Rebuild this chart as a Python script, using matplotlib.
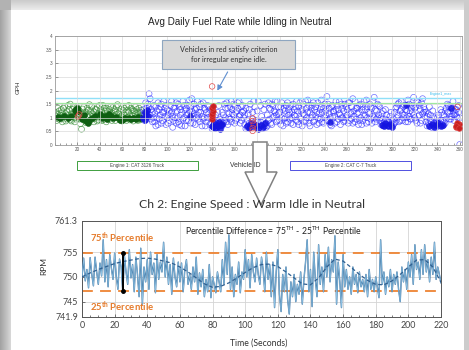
import numpy as np
import matplotlib
matplotlib.use('Agg')
import matplotlib.pyplot as plt
from matplotlib.transforms import Affine2D
from matplotlib.patches import Rectangle, Polygon, FancyArrowPatch

# ---------------- data: top chart (GPH per vehicle) ----------------
green_a = [1.05, 0.98, 1.12, 1.25, 1.02, 0.95, 1.18, 1.35, 1.08, 0.88,
           1.22, 1.45, 1.0, 0.92, 1.15, 1.3, 1.05, 0.85, 1.2, 1.38,
           1.1, 1.25, 0.78, 1.02, 1.32, 0.95, 1.15, 0.82, 1.05, 1.28,
           1.12, 0.9, 1.4, 1.05, 1.22, 0.98, 1.3, 0.88, 1.15, 1.45,
           1.02, 1.2, 0.92, 1.35, 1.08, 0.85, 1.25, 1.12, 0.95, 1.4,
           1.18, 1.0, 1.3, 0.9, 1.12, 1.48, 0.98, 1.22, 1.05, 0.88,
           1.28, 1.1, 0.95, 1.42, 1.02, 1.2, 0.92, 1.35, 1.08, 1.25,
           0.98, 1.15, 1.3, 0.9, 1.05, 1.2, 0.95, 1.1]
green_b = [1.2, 0.9, 1.35, 0.95, 1.1, 1.3, 0.85, 1.05, 1.42, 1.15,
           0.95, 1.08, 1.3, 1.5, 0.88, 1.12, 1.4, 1.0, 0.95, 1.1,
           1.3, 0.95, 1.05, 0.58, 1.15, 1.4, 0.9, 1.2, 1.35, 1.0,
           1.48, 1.25, 0.95, 1.15, 0.85, 1.3, 1.05, 1.38, 0.92, 1.1,
           1.3, 0.9, 1.45, 1.0, 1.25, 1.35, 0.95, 1.05, 1.3, 1.15,
           0.9, 1.38, 1.05, 1.25, 1.4, 1.0, 1.15, 0.92, 1.32, 1.1,
           1.0, 1.35, 1.2, 0.9, 1.28, 1.45, 1.05, 0.95, 1.3, 0.88,
           1.25, 1.4, 1.02, 1.18, 1.35, 0.92, 1.28, 1.05]
green_dark_x = [3, 5, 8, 12, 15, 18, 19, 20, 21, 24, 26, 28, 30, 31, 33, 36, 40, 42,
                45, 47, 48, 50, 52, 55, 58, 60, 61, 63, 66, 68, 70, 72, 74, 76, 77]
green_dark_y = [1.02, 0.98, 1.05, 1.0, 1.08, 1.3, 1.22, 1.35, 1.25, 0.95, 1.1, 0.88,
                0.82, 0.9, 1.0, 1.05, 1.15, 1.0, 1.08, 0.95, 1.12, 1.05, 0.98, 1.02,
                0.92, 0.9, 0.95, 1.0, 0.98, 0.95, 1.0, 0.95, 1.02, 0.98, 1.0]

blue_a = [1.05, 1.2, 0.95, 1.35, 1.5, 1.88, 1.1, 1.3, 0.85, 1.45,
          1.15, 0.7, 1.25, 1.55, 0.95, 1.4, 0.8, 1.2, 1.6, 1.05,
          0.75, 1.3, 1.1, 0.9, 1.45, 1.2, 0.65, 1.35, 1.0, 1.55,
          1.25, 0.85, 1.4, 1.1, 0.7, 1.6, 1.0, 1.3, 0.9, 1.45,
          1.15, 1.65, 0.8, 1.25, 1.05, 1.5, 0.75, 1.35, 1.1, 0.95,
          1.4, 1.2, 0.7, 1.55, 1.0, 1.3, 0.85, 1.45, 1.15, 0.75,
          0.8, 1.3, 0.7, 0.85, 1.1, 0.65, 0.9, 1.45, 0.75, 0.7,
          1.2, 0.8, 1.5, 1.0, 0.85, 1.35, 1.15, 0.95, 1.6, 1.3,
          1.1, 1.45, 0.9, 1.25, 1.55, 1.05, 0.8, 1.4, 1.2, 1.0,
          0.75, 1.35, 0.65, 1.15, 0.8, 1.5, 0.7, 0.95, 1.6, 0.75,
          0.65, 1.25, 0.85, 0.7, 1.45, 0.6, 0.9, 1.3, 0.7, 0.8,
          1.1, 1.55, 0.95, 1.3, 0.75, 1.45, 1.05, 1.2, 0.85, 1.6,
          1.15, 0.9, 1.4, 1.0, 0.7, 1.35, 1.25, 0.8, 1.55, 1.1,
          0.95, 1.45, 1.2, 0.75, 1.3, 1.05, 1.6, 0.85, 1.4, 1.0,
          1.25, 0.7, 1.5, 1.1, 0.9, 1.35, 1.65, 0.8, 1.2, 1.0,
          1.45, 0.85, 1.3, 1.05, 0.75, 1.55, 1.15, 0.95, 1.4, 1.2,
          0.8, 1.5, 1.1, 1.78, 0.9, 1.35, 1.0, 0.7, 1.45, 1.25,
          1.05, 1.6, 0.85, 1.3, 1.15, 0.75, 1.5, 1.0, 1.25, 0.9,
          1.4, 1.1, 0.8, 1.55, 1.2, 0.95, 1.7, 1.05, 0.85, 1.35,
          1.15, 0.75, 1.45, 1.0, 1.3, 0.9, 1.6, 1.1, 0.8, 1.4,
          1.2, 1.5, 0.95, 1.35, 1.05, 1.75, 0.85, 1.25, 1.0, 1.45,
          0.9, 0.75, 1.15, 0.7, 0.85, 1.3, 0.75, 0.9, 0.7, 1.05,
          0.8, 0.7, 0.95, 1.2, 0.85, 1.4, 1.1, 1.55, 0.9, 1.3,
          1.15, 1.0, 1.45, 0.85, 1.25, 1.65, 1.05, 0.95, 1.35, 1.2,
          1.75, 1.0, 1.4, 0.8, 1.55, 1.1, 1.3, 0.9, 1.7, 1.2,
          1.05, 0.85, 0.7, 1.15, 0.75, 0.9, 0.65, 1.25, 0.8, 0.7,
          0.85, 1.0, 0.7, 0.8, 1.3, 0.75, 0.9, 1.1, 0.8, 1.35,
          1.5, 1.2, 0.95, 1.4, 1.05, 1.25, 0.9, 1.15, 1.3, 1.0,
          1.45, 0.02]
blue_b = [1.3, 0.9, 1.55, 1.15, 1.25, 1.4, 1.7, 0.95, 1.2, 1.0,
          0.85, 1.4, 1.0, 0.75, 1.3, 1.1, 1.5, 0.9, 1.2, 1.35,
          1.45, 1.0, 0.8, 1.25, 1.15, 1.6, 1.05, 0.9, 1.4, 0.8,
          1.0, 1.5, 0.75, 1.3, 1.2, 0.95, 1.45, 0.7, 1.35, 1.1,
          0.9, 1.25, 1.4, 1.7, 0.8, 1.15, 1.3, 1.0, 1.6, 1.2,
          0.85, 1.5, 1.05, 0.95, 1.35, 0.7, 1.2, 1.0, 1.4, 1.3,
          1.05, 0.6, 0.95, 0.72, 0.62, 0.8, 1.2, 0.68, 0.95, 0.85,
          0.7, 1.1, 0.9, 1.35, 1.55, 0.75, 1.0, 1.4, 0.85, 1.15,
          1.5, 0.8, 1.2, 0.95, 1.35, 1.6, 1.1, 0.9, 1.45, 1.25,
          1.1, 0.6, 0.9, 0.7, 1.3, 0.65, 0.85, 1.2, 0.7, 1.4,
          0.9, 0.7, 1.6, 0.65, 0.85, 1.05, 0.6, 0.75, 1.5, 0.65,
          0.7, 0.9, 1.35, 0.8, 1.5, 1.0, 1.25, 1.6, 1.1, 0.9,
          1.4, 1.2, 0.75, 1.55, 1.3, 0.95, 1.0, 1.45, 0.85, 1.3,
          1.2, 0.8, 1.0, 1.5, 1.1, 1.4, 0.9, 1.25, 0.75, 1.55,
          0.95, 1.3, 1.15, 0.85, 1.6, 1.0, 1.2, 1.45, 0.7, 1.35,
          1.1, 1.55, 0.9, 1.4, 1.2, 1.0, 0.8, 1.3, 1.65, 0.85,
          1.35, 1.0, 1.25, 0.9, 1.5, 1.15, 0.75, 1.4, 1.05, 1.2,
          0.8, 1.3, 1.45, 0.95, 1.6, 1.1, 1.0, 1.35, 0.85, 1.5,
          1.0, 1.3, 1.55, 0.9, 1.15, 1.4, 0.8, 1.25, 1.6, 0.95,
          1.35, 1.2, 0.9, 1.5, 0.75, 1.4, 1.05, 1.3, 1.65, 1.0,
          0.85, 1.15, 1.4, 0.8, 1.6, 1.0, 1.3, 0.95, 1.5, 1.1,
          1.4, 1.0, 0.8, 1.25, 0.7, 0.95, 1.1, 0.72, 0.85, 0.7,
          1.2, 0.9, 0.75, 0.8, 1.35, 1.0, 1.5, 0.85, 1.25, 1.6,
          0.9, 1.4, 1.1, 1.3, 1.0, 0.85, 1.5, 1.25, 0.95, 1.45,
          1.1, 1.35, 0.9, 1.6, 1.05, 1.45, 0.8, 1.55, 1.15, 1.4,
          1.3, 1.2, 1.05, 0.8, 1.4, 1.1, 0.85, 0.7, 1.0, 0.75,
          0.65, 0.8, 1.1, 0.7, 0.9, 1.2, 0.7, 0.85, 1.25, 0.95,
          1.2, 1.45, 1.05, 0.95, 1.35, 1.6, 1.1, 1.3, 1.05, 1.4,
          1.2, 1.0]
blue_dark_x = [79, 80, 80, 81, 82, 83, 140, 141, 142, 143, 144, 145, 146, 147, 148, 149,
               171, 173, 175, 177, 179, 181, 183, 185, 187, 291, 293, 294, 296, 298, 300,
               333, 335, 337, 339, 341, 343, 345, 120, 245, 312, 352]
blue_dark_y = [1.0, 1.2, 0.9, 1.1, 1.3, 1.05, 0.7, 0.65, 0.8, 0.62, 0.75, 0.68, 0.85, 0.6,
               0.72, 0.78, 0.7, 0.62, 0.8, 0.68, 0.75, 0.6, 0.72, 0.66, 0.82, 0.75, 0.68,
               0.82, 0.7, 0.78, 0.65, 0.7, 0.78, 0.65, 0.72, 0.8, 0.68, 0.74, 1.05, 0.85,
               1.48, 1.35]
red_fill_x = [140, 140, 140, 141, 140, 141, 357, 358, 359, 358, 357, 359]
red_fill_y = [0.95, 1.05, 1.15, 1.25, 1.35, 1.42, 0.65, 0.72, 0.78, 0.82, 0.7, 0.62]
red_open_x = [140, 176, 176, 177, 176, 176, 21, 22, 358]
red_open_y = [2.15, 0.52, 0.62, 0.75, 0.88, 0.98, 1.05, 1.12, 1.4]
engine1_max = 1.74
engine_thresh = 1.55

top_xticks = list(range(20, 361, 20))
top_yticks = [0, 0.5, 1, 1.5, 2, 2.5, 3, 3.5, 4]
top_ylabels = ['0', '0.5', '1', '1.5', '2', '2.5', '3', '3.5', '4']

# ---------------- data: bottom chart (engine speed) ----------------
rpm = [750.0, 753.8, 749.2, 751.5, 747.8, 753.9, 750.5, 748.2, 754.0, 751.0,
       748.5, 752.8, 750.2, 757.5, 749.0, 753.5, 748.0, 754.5, 751.8, 749.5,
       754.8, 750.0, 747.5, 753.6, 752.0, 746.8, 754.2, 751.0, 748.5, 755.5,
       749.8, 752.5, 747.0, 754.0, 750.5, 746.0, 755.8, 744.5, 752.0, 749.0,
       753.5, 747.5, 755.0, 750.5, 752.8, 746.8, 754.5, 749.5, 753.0, 751.0,
       757.0, 750.0, 754.0, 748.5, 752.5, 746.5, 753.8, 750.0, 748.0, 753.0,
       749.0, 752.8, 747.0, 751.5, 753.5, 748.5, 750.5, 747.5, 752.0, 749.0,
       754.0, 746.5, 750.8, 748.0, 751.5, 746.0, 749.5, 747.0, 752.5, 745.8,
       750.0, 748.5, 746.8, 751.0, 749.0, 747.0, 753.5, 748.5, 757.0, 750.5,
       758.5, 747.5, 752.0, 746.0, 750.5, 748.5, 753.0, 746.8, 751.0, 749.5,
       755.5, 750.0, 753.5, 747.8, 754.5, 751.0, 749.0, 753.8, 750.5, 748.5,
       754.0, 751.5, 747.0, 755.0, 749.5, 752.5, 746.0, 753.0, 743.8, 751.0,
       755.5, 746.5, 743.0, 750.5, 747.0, 752.0, 745.5, 742.5, 749.0, 746.0,
       750.5, 745.0, 748.5, 746.5, 751.0, 744.5, 749.5, 753.0, 757.5, 747.0,
       751.5, 744.0, 755.0, 749.5, 746.0, 756.5, 748.5, 752.0, 747.0, 754.5,
       750.0, 756.0, 749.0, 753.5, 751.0, 758.3, 744.5, 753.0, 749.0, 743.8,
       754.5, 748.0, 751.5, 747.5, 750.0, 746.5, 752.0, 748.5, 750.5, 746.8,
       751.0, 748.0, 749.5, 747.0, 750.5, 746.0, 751.5, 747.5, 749.5, 747.0,
       750.0, 748.0, 745.8, 757.5, 748.5, 751.0, 746.5, 750.0, 748.0, 751.5,
       747.0, 750.5, 748.5, 751.0, 747.5, 745.0, 752.0, 749.0, 751.5, 747.5,
       753.0, 750.0, 754.5, 748.5, 756.5, 751.5, 753.0, 749.5, 755.5, 750.5,
       756.5, 751.0, 753.5, 749.0, 754.0, 750.5, 757.0, 749.5, 752.0, 750.5,
       748.8]
smooth_rpm = [750.0, 750.8, 751.5, 752.1, 752.7, 753.1, 753.4, 753.7, 753.8, 753.6,
              753.2, 752.8, 752.0, 751.0, 749.8, 748.6, 747.9, 748.1, 748.8, 749.8,
              750.9, 751.9, 752.5, 752.6, 752.1, 751.0, 749.8, 748.6, 748.4, 749.8,
              752.0, 753.6, 753.2, 751.9, 750.5, 749.3, 748.5, 748.4, 749.2, 750.5,
              752.0, 753.4, 753.5, 752.0, 748.9]
p75 = 754.9
p25 = 747.2
bar_t = 25
bot_yticks = [741.9, 745, 750, 755, 761.3]
bot_ylabels = ['741.9', '745', '750', '755', '761.3']
bot_xticks = list(range(0, 221, 20))

# ---------------- figure ----------------
W, H = 469, 350
fig = plt.figure(figsize=(W / 100, H / 100), dpi=100)
fig.patch.set_facecolor('white')
px = Affine2D().scale(1 / W, -1 / H).translate(0, 1) + fig.transFigure

# framed background
bg = fig.add_axes([0, 0, 1, 1], zorder=-10)
img = np.ones((H, W, 3))
lc = np.linspace(0.64, 0.84, 11)
for c in range(11):
    img[:, c, :] = lc[c]
tr = np.linspace(0.80, 0.92, 10)
for r in range(10):
    img[r, 11:, :] = tr[r]
img[:, 464:, :] = 0.80
img[:10, :11, :] = 0.70
bg.imshow(img, extent=(0, W, H, 0), aspect='auto', interpolation='bilinear')
bg.set_xlim(0, W)
bg.set_ylim(H, 0)
bg.axis('off')

ARIAL = 'Liberation Sans'
CAL = 'Lato'

# ---------- top chart ----------
ax1 = fig.add_axes([54.5 / W, 1 - 145 / H, (462 - 54.5) / W, 109 / H])
ax1.set_xlim(0, 362)
ax1.set_ylim(0, 4)
ax1.set_xticks(top_xticks)
ax1.set_xticklabels([str(v) for v in top_xticks], fontsize=3.3, family=ARIAL)
ax1.set_yticks(top_yticks)
ax1.set_yticklabels(top_ylabels, fontsize=3.3, family=ARIAL)
ax1.set_xticks(np.arange(0, 361, 5), minor=True)
ax1.tick_params(which='both', direction='in', length=1.5, width=0.4, pad=1.5,
                colors='#555555', top=False, right=False)
ax1.tick_params(which='major', length=2)
ax1.grid(True, color='#dadada', lw=0.5)
for s in ax1.spines.values():
    s.set_color('#9a9a9a')
    s.set_linewidth(0.6)

ax1.axhline(engine1_max, color='#8fe0f8', lw=1.0, zorder=1.5)
ax1.axhline(engine_thresh, color='#9ee89e', lw=0.9, zorder=1.5)

gx = np.arange(1, 1 + len(green_a))
ax1.scatter(gx, green_a, s=18, facecolors='none', edgecolors='#3a8f3a', lw=0.5, alpha=0.8)
ax1.scatter(gx, green_b, s=18, facecolors='none', edgecolors='#3a8f3a', lw=0.5, alpha=0.8)
ax1.scatter(green_dark_x, green_dark_y, s=18, color='#0e5e12', lw=0.4)
bx = np.arange(79, 79 + len(blue_a))
bx2 = np.arange(79, 79 + len(blue_b))
ax1.scatter(bx, blue_a, s=18, facecolors='none', edgecolors='#3030ff', lw=0.5, alpha=0.7)
ax1.scatter(bx2, blue_b, s=18, facecolors='none', edgecolors='#3030ff', lw=0.5, alpha=0.7)
ax1.scatter(blue_dark_x, blue_dark_y, s=18, color='#1414e0', lw=0.4, alpha=0.85)
ax1.scatter(red_fill_x, red_fill_y, s=16, color='#c82020', edgecolors='#e04040', lw=0.5, zorder=3)
ax1.scatter(red_open_x, red_open_y, s=16, facecolors='none', edgecolors='#e04848', lw=0.5, zorder=3)
ax1.text(343, 1.87, 'Engine1_max', fontsize=2.6, color='#33bbee', ha='center', va='center',
         family=ARIAL)

fig.text(240, 22, 'Avg Daily Fuel Rate while Idling in Neutral', transform=px,
         fontsize=7.1, family=ARIAL, ha='center', va='center', color='#222222')
fig.text(18, 87, 'GPH', transform=px, rotation=90, fontsize=4.5, family=ARIAL,
         ha='center', va='center', color='#333333')

# callout box
fig.patches.append(Rectangle((162, 40), 133, 29, transform=px, facecolor='#d8d8d8',
                             edgecolor='#8ea6c0', lw=0.8, zorder=6))
fig.text(228.5, 54.5, 'Vehicles in red satisfy criterion\nfor irregular engine idle.',
         transform=px, fontsize=5.2, family=CAL, ha='center', va='center',
         color='#333333', linespacing=1.4, zorder=7)
fig.patches.append(FancyArrowPatch((229, 69.5), (216, 93), transform=px,
                                   arrowstyle='-|>,head_length=3,head_width=1.6',
                                   color='#5f8fd0', lw=0.8, zorder=6))

# engine boxes + vehicle label
fig.patches.append(Rectangle((77, 161), 121, 9, transform=px, facecolor='white',
                             edgecolor='#3f9f3f', lw=0.7, zorder=4))
fig.text(137.5, 165.5, 'Engine 1: CAT 3126 Truck', transform=px, fontsize=3.3,
         family=ARIAL, ha='center', va='center', color='#444444', zorder=5)
fig.patches.append(Rectangle((290, 161), 121, 9, transform=px, facecolor='white',
                             edgecolor='#5050e0', lw=0.7, zorder=4))
fig.text(350.5, 165.5, 'Engine 2: CAT C-7 Truck', transform=px, fontsize=3.3,
         family=ARIAL, ha='center', va='center', color='#444444', zorder=5)

# big hollow arrow
fig.patches.append(Polygon([(253, 142), (267, 142), (267, 172), (277, 172), (261, 205),
                            (245, 172), (253, 172)], closed=True, transform=px,
                           facecolor='white', edgecolor='#808080', lw=1.1, zorder=8))
fig.text(245, 165.5, 'Vehicle ID', transform=px, fontsize=4.9, family=ARIAL,
         ha='center', va='center', color='#333333', zorder=9)

# ---------- bottom chart ----------
ax2 = fig.add_axes([82 / W, 1 - 317 / H, (441 - 82) / W, 96 / H])
ax2.set_xlim(0, 220)
ax2.set_ylim(741.9, 761.3)
ax2.set_xticks(bot_xticks)
ax2.set_xticklabels([str(v) for v in bot_xticks], fontsize=6.4, family=CAL, color='#444444')
ax2.set_yticks(bot_yticks)
ax2.set_yticklabels(bot_ylabels, fontsize=6.4, family=CAL, color='#444444')
ax2.set_xticks(np.arange(0, 221, 5), minor=True)
ax2.tick_params(which='both', direction='in', width=0.5, colors='#444444', pad=3,
                top=False, right=False)
ax2.tick_params(which='major', length=2.5)
ax2.tick_params(which='minor', length=1.5)
ax2.grid(True, color='#d5d5d5', lw=0.6)
for s in ax2.spines.values():
    s.set_color('#555555')
    s.set_linewidth(0.7)

t = np.arange(len(rpm))
ax2.plot(t, rpm, color='#3b6f9e', lw=1.0, zorder=3)
ax2.plot(t, rpm, color='#8cc2e4', lw=0.5, zorder=4)
ts = np.arange(0, 5 * len(smooth_rpm), 5)
ax2.plot(ts, smooth_rpm, color='#2f5f90', lw=0.9, ls=(0, (3, 2)), zorder=5)
ax2.axhline(p75, color='#ee8433', lw=1.3, ls=(0, (6, 4)), zorder=2)
ax2.axhline(p25, color='#ee8433', lw=1.3, ls=(0, (6, 4)), zorder=2)
ax2.plot([bar_t, bar_t], [p25, p75], color='black', lw=1.4, marker='o', ms=2.5, zorder=6)

fig.text(252, 205, 'Ch 2: Engine Speed : Warm Idle in Neutral', transform=px,
         fontsize=8.8, family=CAL, ha='center', va='center', color='#333333', zorder=9)
fig.text(273, 231, r'Percentile Difference = 75$^{\mathregular{TH}}$ - 25$^{\mathregular{TH}}$ Percentile',
         transform=px, fontsize=6.2, family=CAL, ha='center', va='center', color='#222222',
         zorder=9)
fig.text(90, 238, r'75$^{\mathregular{th}}$ Percentile', transform=px, fontsize=6.8,
         family=CAL, weight='bold', ha='left', va='center', color='#e57a2a', zorder=9)
fig.text(90, 307, r'25$^{\mathregular{th}}$ Percentile', transform=px, fontsize=6.8,
         family=CAL, weight='bold', ha='left', va='center', color='#e57a2a', zorder=9)
fig.text(44, 266, 'RPM', transform=px, rotation=90, fontsize=6, family=CAL,
         ha='center', va='center', color='#333333')
fig.text(259, 343, 'Time (Seconds)', transform=px, fontsize=6.2, family=CAL,
         ha='center', va='center', color='#333333')

fig.savefig('out.png', dpi=100)
